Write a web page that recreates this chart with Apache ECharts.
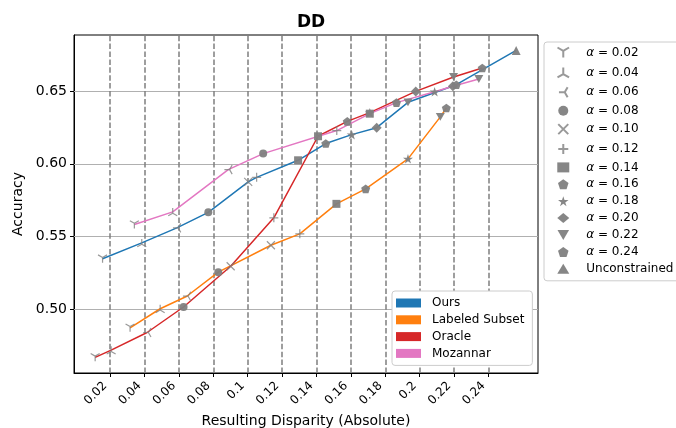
<!DOCTYPE html>
<html><head><meta charset="utf-8">
<script src="https://cdn.jsdelivr.net/npm/echarts@6/dist/echarts.min.js"></script>
<style>html,body{margin:0;padding:0;background:#fff}#c{width:676px;height:428px}</style>
</head><body><div id="c"></div>
<script>
// ---- data ----
const alphaLabels = ['0.02','0.04','0.06','0.08','0.10','0.12','0.14','0.16','0.18','0.20','0.22','0.24','Unconstrained'];
const xTicks = [0.02,0.04,0.06,0.08,0.1,0.12,0.14,0.16,0.18,0.2,0.22,0.24];
const yTicks = [0.50,0.55,0.60,0.65];
const alphaLines = [0.02,0.04,0.06,0.08,0.10,0.12,0.14,0.16,0.18,0.20,0.22,0.24];

const oursX = [0.0156,0.0384,0.0588,0.0771,0.1003,0.1052,0.1293,0.1454,0.1605,0.1750,0.1932,0.2213,0.2561];
const oursY = [0.5348,0.5457,0.5560,0.5667,0.5876,0.5907,0.6024,0.6139,0.6200,0.6248,0.6422,0.6543,0.6778];
const oursA = ['0.02','0.04','0.06','0.08','0.10','0.12','0.14','0.16','0.18','0.20','0.22','0.24','Unconstrained'];

const labeledX = [0.0316,0.0491,0.0646,0.0829,0.1135,0.1303,0.1516,0.1686,0.1932,0.2120,0.2155];
const labeledY = [0.4874,0.5005,0.5091,0.5256,0.5441,0.5519,0.5725,0.5828,0.6034,0.6322,0.6383];
const labeledA = ['0.02','0.04','0.06','0.08','0.10','0.12','0.14','0.16','0.18','0.22','0.24'];

const oracleX = [0.0113,0.0206,0.0415,0.0627,0.0901,0.1152,0.1409,0.1579,0.1710,0.1977,0.2197,0.2364];
const oracleY = [0.4671,0.4721,0.4842,0.5017,0.5297,0.5629,0.6189,0.6291,0.6351,0.6497,0.6596,0.6658];
const oracleA = ['0.02','0.04','0.06','0.08','0.10','0.12','0.14','0.16','0.18','0.20','0.22','0.24'];

const mozX = [0.0341,0.0564,0.0887,0.1090,0.1518,0.1710,0.1865,0.2087,0.2193,0.2344];
const mozY = [0.5583,0.5670,0.5960,0.6070,0.6228,0.6344,0.6420,0.6495,0.6532,0.6582];
const mozA = ['0.02','0.04','0.06','0.08','0.12','0.14','0.16','0.18','0.20','0.22'];

// ---- styles ----
const methods = [
  {name:'Ours', x:oursX, y:oursY, a:oursA, color:'#1f77b4'},
  {name:'Labeled Subset', x:labeledX, y:labeledY, a:labeledA, color:'#ff7f0e'},
  {name:'Oracle', x:oracleX, y:oracleY, a:oracleA, color:'#d62728'},
  {name:'Mozannar', x:mozX, y:mozY, a:mozA, color:'#e377c2'}
];
const PENT = 'path://M50,0 L97.6,34.5 L79.4,90.5 L20.6,90.5 L2.4,34.5 Z';
const STAR = 'path://M50,0 L61.2,34.6 L97.6,34.6 L68.1,55.9 L79.4,90.5 L50,69 L20.6,90.5 L31.9,55.9 L2.4,34.6 L38.8,34.6 Z';
const TRI_DOWN_FILLED = 'path://M0,0 L100,0 L50,86.6 Z';
const markerStyle = {
  '0.02': {symbol:'path://M50,50 L50,100 M50,50 L6.7,25 M50,50 L93.3,25', stroke:true, size:9},
  '0.04': {symbol:'path://M50,50 L50,0 M50,50 L6.7,75 M50,50 L93.3,75', stroke:true, size:9},
  '0.06': {symbol:'path://M50,50 L0,50 M50,50 L75,6.7 M50,50 L75,93.3', stroke:true, size:9},
  '0.08': {symbol:'circle', size:8},
  '0.10': {symbol:'path://M0,0 L100,100 M100,0 L0,100', stroke:true, size:8},
  '0.12': {symbol:'path://M50,0 L50,100 M0,50 L100,50', stroke:true, size:9},
  '0.14': {symbol:'rect', size:8},
  '0.16': {symbol:PENT, size:9},
  '0.18': {symbol:STAR, size:10},
  '0.20': {symbol:'diamond', size:10},
  '0.22': {symbol:TRI_DOWN_FILLED, size:9},
  '0.24': {symbol:PENT, size:9},
  'Unconstrained': {symbol:'triangle', size:9}
};
const GRAY = '#808080';
const legendName = a => a === 'Unconstrained' ? a : 'α = ' + a;

const series = [];
series.push({
  type:'scatter', data:[], z:1, silent:true,
  markLine:{
    silent:true, symbol:['none','none'], label:{show:false}, animation:false, z:1,
    data: yTicks.map(v => ({yAxis:v, lineStyle:{color:'#b0b0b0', width:1, type:'solid'}}))
      .concat(alphaLines.map(v => ({xAxis:v, lineStyle:{color:'#7f7f7f', width:1.5, type:[5.5,2.4]}})))
  }
});
methods.forEach(m => {
  series.push({
    name:m.name, type:'line', z:2, showSymbol:false, symbol:'none',
    data: m.x.map((v,i) => [v, m.y[i]]),
    lineStyle:{color:m.color, width:1.5},
    itemStyle:{color:m.color},
    emphasis:{disabled:true}
  });
});
alphaLabels.forEach(a => {
  const st = markerStyle[a];
  const pts = [];
  methods.forEach(m => m.a.forEach((aa,i) => { if (aa === a) pts.push([m.x[i], m.y[i]]); }));
  series.push({
    name: legendName(a), type:'scatter', z:3,
    symbol: st.symbol, symbolSize: st.size, symbolKeepAspect:true,
    data: pts,
    itemStyle: st.stroke ? {color:'none', borderColor:GRAY, borderWidth:1.2} : {color:GRAY, opacity:0.95},
    emphasis:{disabled:true}
  });
});

const FONT = 'DejaVu Sans';
const chart = echarts.init(document.getElementById('c'), null, {renderer:'canvas'});
chart.setOption({
  animation:false,
  textStyle:{fontFamily:FONT},
  title:{text:'DD', left:306, top:9, textAlign:'center', textStyle:{fontFamily:FONT, fontWeight:'bold', fontSize:17, color:'#000'}},
  grid:{left:74, right:138, top:35, bottom:55, show:true, borderColor:'#000', borderWidth:1, backgroundColor:'transparent', outerBoundsMode:'none', containLabel:false},
  xAxis:{
    type:'value', min:-0.001, max:0.2688,
    name:'Resulting Disparity (Absolute)', nameLocation:'middle', nameGap:37,
    nameTextStyle:{fontFamily:FONT, fontSize:14, color:'#000'},
    axisLine:{show:true, onZero:false, lineStyle:{color:'#000', width:1}},
    axisTick:{show:true, length:4, lineStyle:{color:'#000'}, customValues:xTicks},
    axisLabel:{rotate:45, fontSize:12, color:'#000', fontFamily:FONT, margin:6, customValues:xTicks,
      formatter: v => String(+v.toFixed(2)) + '{p|}', rich:{p:{width:7}}},
    splitLine:{show:false}
  },
  yAxis:{
    type:'value', min:0.4564, max:0.6884,
    name:'Accuracy', nameLocation:'middle', nameGap:48,
    nameTextStyle:{fontFamily:FONT, fontSize:14, color:'#000'},
    axisLine:{show:true, onZero:false, lineStyle:{color:'#000', width:1}},
    axisTick:{show:true, length:4, lineStyle:{color:'#000'}, customValues:yTicks},
    axisLabel:{fontSize:14, color:'#000', fontFamily:FONT, margin:7, customValues:yTicks,
      formatter: v => v.toFixed(2)},
    splitLine:{show:false}
  },
  legend:[
    {
      data:['Ours','Labeled Subset','Oracle','Mozannar'], orient:'vertical', left:392, top:291, z:20,
      icon:'rect', itemWidth:25, itemHeight:9, itemGap:4.8,
      backgroundColor:'#fff', borderColor:'#cccccc', borderWidth:1, borderRadius:3,
      padding:[6,8,6,4], selectedMode:false,
      formatter: n => '{g|}{t|' + n + '}',
      textStyle:{fontFamily:FONT, fontSize:12, color:'#000', rich:{g:{width:6}, t:{fontFamily:FONT, fontSize:12, color:'#000', lineHeight:14}}}
    },
    {
      data: alphaLabels.map(legendName), orient:'vertical', left:544, top:42, z:20,
      itemWidth:12, itemHeight:10, itemGap:4.9,
      backgroundColor:'#fff', borderColor:'#cccccc', borderWidth:1, borderRadius:3,
      padding:[3,30,6,11], selectedMode:false,
      formatter: n => n.startsWith('α') ? '{g|}{i|α}{t| = ' + n.slice(4) + '}' : '{g|}{t|' + n + '}',
      textStyle:{fontFamily:FONT, fontSize:12, color:'#000', rich:{
        g:{width:12}, i:{fontStyle:'italic', fontFamily:FONT, fontSize:12, color:'#000', lineHeight:14},
        t:{fontFamily:FONT, fontSize:12, color:'#000', lineHeight:14}}}
    }
  ],
  series: series
});
</script></body></html>
